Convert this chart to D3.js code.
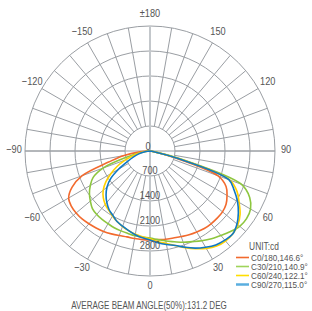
<!DOCTYPE html>
<html>
<head>
<meta charset="utf-8">
<script src="https://cdn.jsdelivr.net/npm/d3@7"></script>
<style>
  body { margin: 0; background: #fff; }
  svg { display: block; }
  text { font-family: "Liberation Sans Narrow", "Liberation Sans", Arial, sans-serif; fill: #555; }
</style>
</head>
<body>
<div id="chart"></div>
<script>
const width = 312,
      height = 311;

// gamma angles (deg), 0 = straight down
const angles = [-90,-85,-80,-75,-70,-65,-60,-55,-50,-45,-40,-35,-30,-25,-20,-15,-10,-5,0,
                5,10,15,20,25,30,35,40,45,50,55,60,65,70,75,80,85,90];

// intensity in cd
const c0 = [0,280,760,1200,2020,2410,2630,2690,2700,2690,2660,2630,2600,2560,2520,2490,2490,2490,2490,
            2490,2510,2520,2550,2590,2620,2650,2660,2660,2650,2600,2490,2350,2020,700,80,0,0];
const c30 = [0,80,280,700,1400,1760,1930,2070,2180,2280,2320,2340,2350,2370,2380,2390,2410,2420,2440,
             2490,2560,2630,2720,2800,2900,3000,3090,3190,3280,3300,3250,3080,2720,980,140,0,0];
const c60 = [0,80,250,480,730,1010,1260,1510,1710,1850,1950,2020,2100,2180,2250,2310,2370,2410,2460,
             2550,2630,2740,2880,3020,3150,3250,3290,3280,3210,3080,2880,2690,2380,900,110,0,0];
const c90 = [0,60,170,340,500,700,1010,1340,1570,1740,1880,2000,2080,2180,2240,2310,2380,2440,2490,
             2580,2660,2740,2870,3000,3110,3210,3260,3280,3180,3020,2830,2600,2350,840,110,0,0];

const seriesNames = ["C0/180,146.6°", "C30/210,140.9°", "C60/240,122.1°", "C90/270,115.0°"];
const seriesColors = ["#f26a2e", "#8dc63f", "#ffd200", "#0f78c4"];
const legendColors = ["#f26a2e", "#9fd45a", "#ffde00", "#5aaedf"];
const seriesValues = [c0, c30, c60, c90];

const rings = [700, 1400, 2100, 2800, 3500];
const ringLabels = ["700", "1400", "2100", "2800"];
const angleTicks = [0, 30, 60, 90, 120, 150, 180, -150, -120, -90, -60, -30];
const angleTickLabels = ["0", "30", "60", "90", "120", "150", "±180", "−150", "−120", "−90", "−60", "−30"];

const cx = 150, cy = 151;
const squeeze = 0.8;   // fake a condensed face

const r = d3.scaleLinear()
            .domain([0, 3500])
            .range([0, 125]);

const toRad = d => (180 - d) * Math.PI / 180;  // lineRadial angle: 0 up, clockwise

const svg = d3.select("#chart")
  .append("svg")
    .attr("width", width)
    .attr("height", height);

function label(sel, x, y, size, sx) {
  return sel.append("text")
    .attr("transform", `translate(${x},${y}) scale(${sx || squeeze},1)`)
    .attr("dy", "0.35em")
    .style("font-size", size + "px");
}

const g = svg.append("g")
    .attr("transform", `translate(${cx},${cy})`);

// grid circles
g.selectAll("circle.ring")
  .data(rings)
  .enter().append("circle")
    .attr("class", "ring")
    .attr("r", d => r(d))
    .attr("fill", "none")
    .attr("stroke", "#9a9ea3")
    .attr("stroke-width", 1);

// spokes every 10 deg
const spokes = d3.range(0, 360, 10);
g.selectAll("line.spoke")
  .data(spokes)
  .enter().append("line")
    .attr("class", "spoke")
    .attr("x1", d => r(700) * Math.sin(toRad(d)))
    .attr("y1", d => -r(700) * Math.cos(toRad(d)))
    .attr("x2", d => r(3500) * Math.sin(toRad(d)))
    .attr("y2", d => -r(3500) * Math.cos(toRad(d)))
    .attr("stroke", "#9a9ea3")
    .attr("stroke-width", 1);

// horizontal axis
g.append("line")
    .attr("x1", -r(3500)).attr("x2", r(3500))
    .attr("y1", 0).attr("y2", 0)
    .attr("stroke", "#9a9ea3");
// vertical axis
g.append("line")
    .attr("x1", 0).attr("x2", 0)
    .attr("y1", -r(3500)).attr("y2", r(3500))
    .attr("stroke", "#c3c7cb")
    .attr("stroke-width", 2);

// curves
const line = d3.lineRadial()
    .angle((d, i) => toRad(angles[i]))
    .radius(d => r(d))
    .curve(d3.curveCatmullRom);

g.selectAll("path.curve")
  .data(seriesValues)
  .enter().append("path")
    .attr("class", "curve")
    .attr("d", d => line(d))
    .attr("fill", "none")
    .attr("stroke", (d, i) => seriesColors[i])
    .attr("stroke-width", 1.6);

// ring labels
ringLabels.forEach(d => {
  label(g, 0, r(+d) - 6, 11.5).attr("text-anchor", "middle").text(d);
});
label(g, -2, -5, 11.5).attr("text-anchor", "middle").text("0");

// angle labels
angleTicks.forEach((d, i) => {
  const a = d * Math.PI / 180;
  label(g, 136 * Math.sin(a), 136 * Math.cos(a) - 2, 11.5)
    .attr("text-anchor", "middle")
    .text(angleTickLabels[i]);
});

// legend
label(svg, 264, 246, 10.5).attr("text-anchor", "middle").text("UNIT:cd");

seriesNames.forEach((d, i) => {
  const y = 257.5 + i * 9;
  svg.append("line")
      .attr("x1", 236).attr("x2", 249)
      .attr("y1", y).attr("y2", y)
      .attr("stroke", legendColors[i])
      .attr("stroke-width", i === 3 ? 2.5 : 1.6);
  label(svg, 251, y, 9.5, 0.86).text(d);
});

label(svg, 149, 305, 11, 0.73).attr("text-anchor", "middle")
    .text("AVERAGE BEAM ANGLE(50%):131.2 DEG");
</script>
</body>
</html>
